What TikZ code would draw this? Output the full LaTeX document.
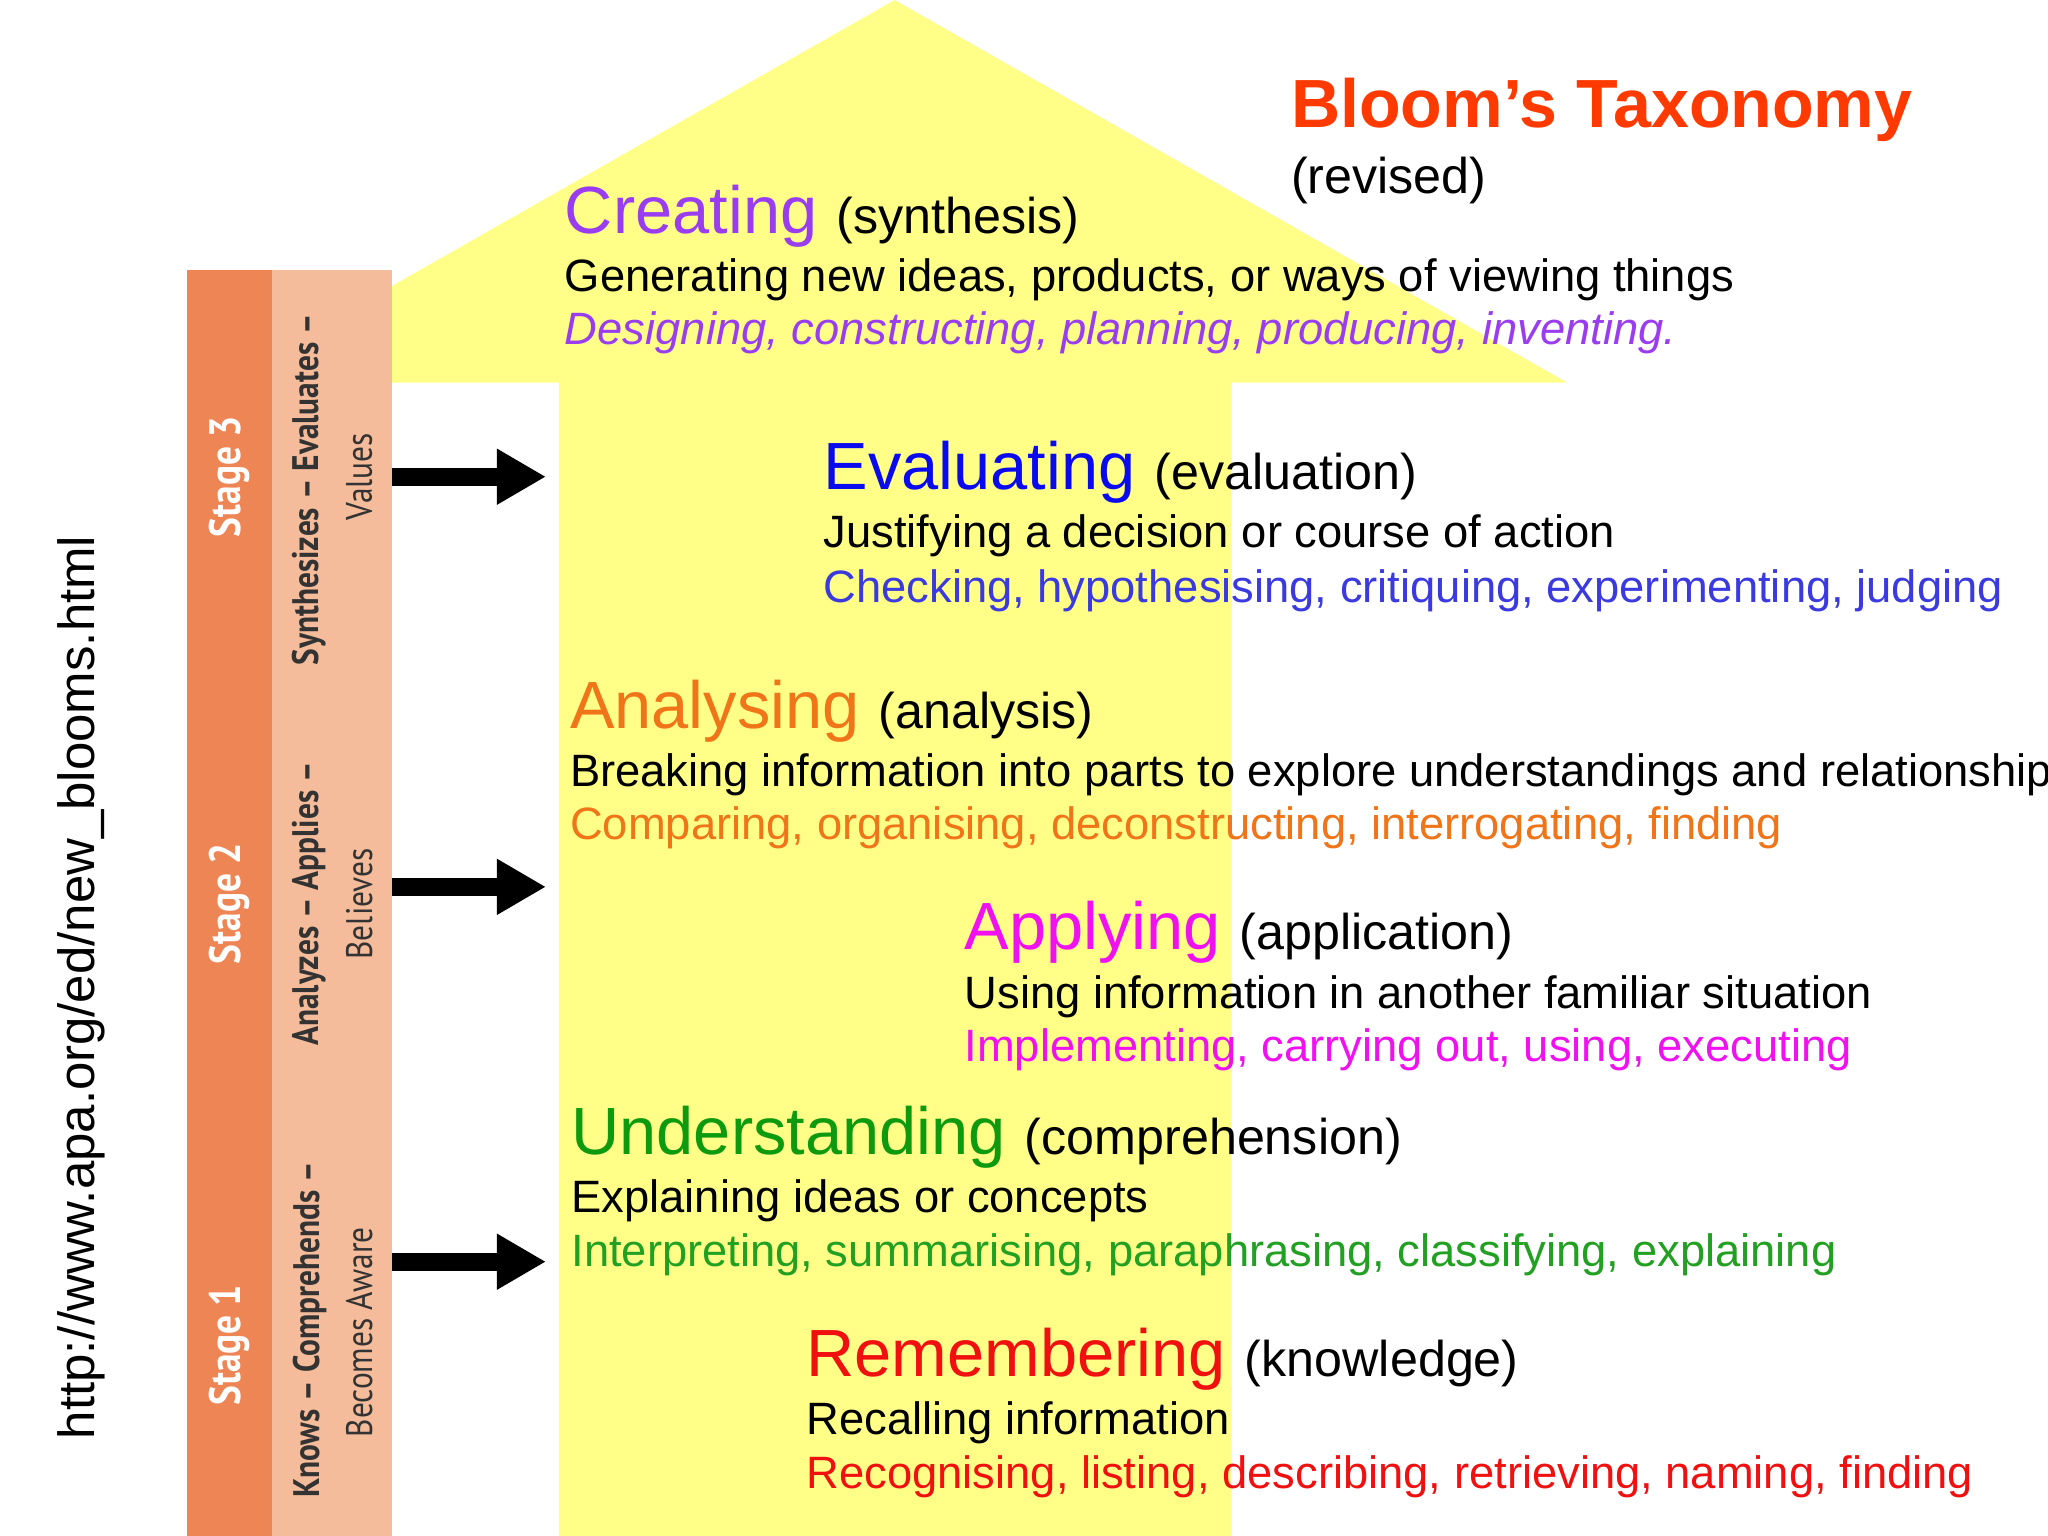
\documentclass[tikz,border=0pt]{standalone}
\usepackage{fontspec}
\setmainfont{Liberation Sans}
\newfontfamily\narrow[FakeStretch=0.85]{PT Sans}
\usetikzlibrary{arrows.meta}
\definecolor{arrowyellow}{HTML}{FFFF88}
\definecolor{stagedark}{HTML}{EE8555}
\definecolor{stagelight}{HTML}{F5BC9B}
\definecolor{cpurple}{HTML}{9A3DF0}
\definecolor{cblue}{HTML}{0A0AEE}
\definecolor{cblue2}{HTML}{3A3AE0}
\definecolor{corange}{HTML}{F07418}
\definecolor{cmagenta}{HTML}{F010F0}
\definecolor{cgreen}{HTML}{0E9A0E}
\definecolor{cgreen2}{HTML}{22A022}
\definecolor{cred}{HTML}{F01010}
\definecolor{ctitle}{HTML}{FF3A00}
\definecolor{stagetext}{HTML}{333333}
\tikzset{
  x=0.01306cm, y=-0.01306cm,
  lvl/.style={anchor=base west, inner sep=0pt, font=\fontsize{19}{22}\selectfont},
  par/.style={anchor=base west, inner sep=0pt, font=\fontsize{14.3}{17}\selectfont},
  body/.style={anchor=base west, inner sep=0pt, font=\fontsize{12.9}{15}\selectfont},
  stg/.style={rotate=90, inner sep=0pt, text=white, font=\narrow\bfseries\fontsize{12.5}{14}\selectfont},
  stgb/.style={rotate=90, inner sep=0pt, text=stagetext, font=\narrow\bfseries\fontsize{10.5}{12}\selectfont},
  stgt/.style={rotate=90, inner sep=0pt, text=stagetext, font=\narrow\fontsize{10.5}{12}\selectfont},
  bigarrow/.style={line width=5.2pt, -{Triangle[length=14pt,width=15pt]}}
}
\begin{document}
\begin{tikzpicture}
\useasboundingbox (0,0) rectangle (1568,1176);
\fill[white] (0,0) rectangle (1568,1176);
% yellow arrow
\fill[arrowyellow] (685,0) -- (1200,293) -- (943,293) -- (943,1176) -- (428,1176) -- (428,293) -- (170,293) -- cycle;
% stage bars
\fill[stagedark] (143,207) rectangle (208,1176);
\fill[stagelight] (208,207) rectangle (300,1176);
\node[stg] (s3) at (176,365) {Stage 3};
\node[stg] (s2) at (176,692) {Stage 2};
\node[stg] (s1) at (176,1030) {Stage 1};
\node[stgb] (t3) at (237,375) {Synthesizes – Evaluates –};
\node[stgt] (v3) at (275,365) {Values};
\node[stgb] (t2) at (237,692) {Analyzes – Applies –};
\node[stgt] (v2) at (275,692) {Believes};
\node[stgb] (t1) at (237,1018) {Knows – Comprehends –};
\node[stgt] (v1) at (275,1020) {Becomes Aware};
% arrows
\coordinate (a3s) at (300,365); \coordinate (a3e) at (418,365);
\coordinate (a2s) at (300,679); \coordinate (a2e) at (418,679);
\coordinate (a1s) at (300,966); \coordinate (a1e) at (418,966);
\draw[bigarrow] (a3s) -- (a3e);
\draw[bigarrow] (a2s) -- (a2e);
\draw[bigarrow] (a1s) -- (a1e);
% url
\node[rotate=90, inner sep=0pt, font=\fontsize{14.5}{17}\selectfont] (url) at (62,756) {http://www.apa.org/ed/new\_blooms.html};
% title
\node[anchor=base west, inner sep=0pt, text=ctitle, font=\bfseries\fontsize{19.4}{23}\selectfont] (title) at (988,98) {Bloom’s Taxonomy};
\node[par, anchor=base west] (rev) at (988,148) {(revised)};
% Creating
\node[lvl, text=cpurple] (c1) at (432,179) {Creating};
\node[par] at ([xshift=5pt]c1.base east) {(synthesis)};
\node[body] (c2) at (432,223) {Generating new ideas, products, or ways of viewing things};
\node[body, text=cpurple, font=\itshape\fontsize{12.9}{15}\selectfont] (c3) at (432,264) {Designing, constructing, planning, producing, inventing.};
% Evaluating
\node[lvl, text=cblue] (e1) at (630,375) {Evaluating};
\node[par] at ([xshift=5pt]e1.base east) {(evaluation)};
\node[body] (e2) at (630,419) {Justifying a decision or course of action};
\node[body, text=cblue2] (e3) at (630,461) {Checking, hypothesising, critiquing, experimenting, judging};
% Analysing
\node[lvl, text=corange] (n1) at (436,558) {Analysing};
\node[par] at ([xshift=5pt]n1.base east) {(analysis)};
\node[body] (n2) at (436,602) {Breaking information into parts to explore understandings and relationships};
\node[body, text=corange] (n3) at (436,643) {Comparing, organising, deconstructing, interrogating, finding};
% Applying
\node[lvl, text=cmagenta] (p1) at (738,727) {Applying};
\node[par] at ([xshift=5pt]p1.base east) {(application)};
\node[body] (p2) at (738,772) {Using information in another familiar situation};
\node[body, text=cmagenta] (p3) at (738,813) {Implementing, carrying out, using, executing};
% Understanding
\node[lvl, text=cgreen] (u1) at (437,884) {Understanding};
\node[par] at ([xshift=5pt]u1.base east) {(comprehension)};
\node[body] (u2) at (437,928) {Explaining ideas or concepts};
\node[body, text=cgreen2] (u3) at (437,970) {Interpreting, summarising, paraphrasing, classifying, explaining};
% Remembering
\node[lvl, text=cred] (r1) at (617,1054) {Remembering};
\node[par] at ([xshift=5pt]r1.base east) {(knowledge)};
\node[body] (r2) at (617,1098) {Recalling information};
\node[body, text=cred] (r3) at (617,1140) {Recognising, listing, describing, retrieving, naming, finding};
\end{tikzpicture}
\end{document}
